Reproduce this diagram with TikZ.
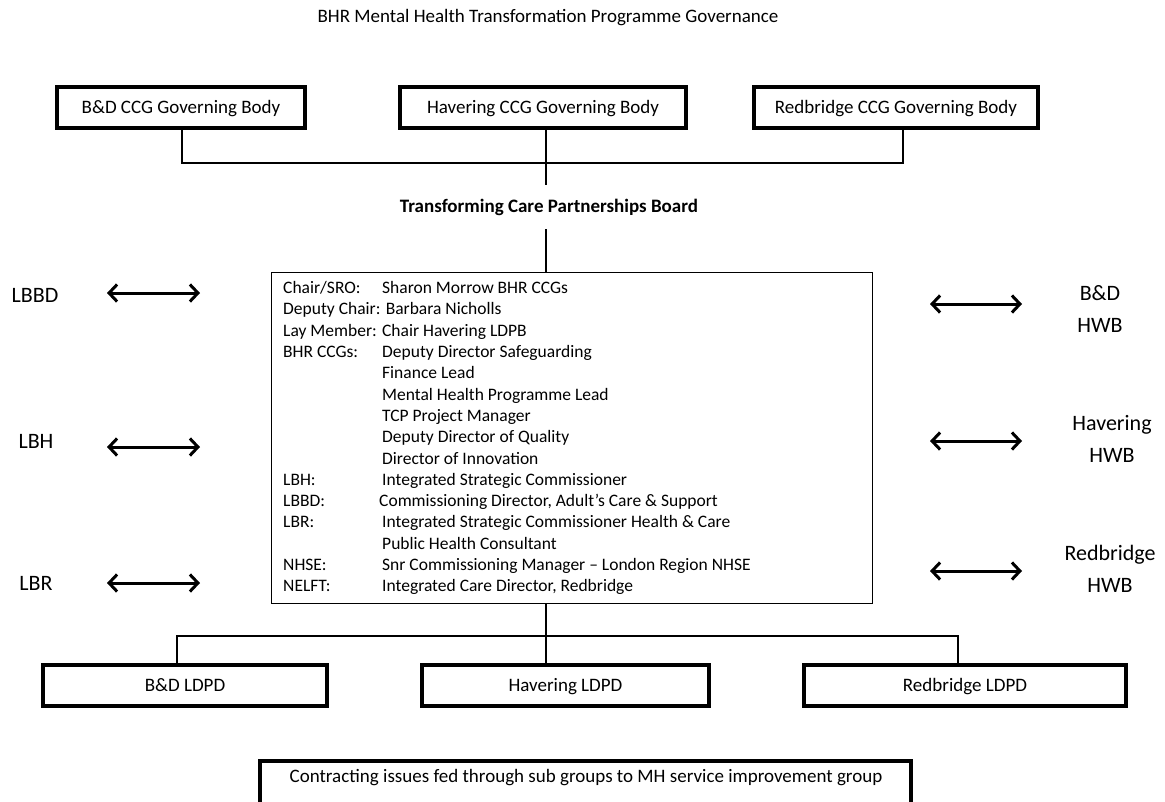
\documentclass[tikz,border=0pt]{standalone}
\usepackage{fontspec}
\setmainfont{Carlito}
\usetikzlibrary{arrows.meta}
\tikzset{
  govbox/.style={draw, line width=3.6pt, inner sep=0pt, text height=14pt, text depth=2pt, font=\fontsize{19}{22}\selectfont},
  conn/.style={line width=1.1pt},
  dbl/.style={line width=3pt, {Straight Barb[length=8pt,width=17pt]}-{Straight Barb[length=8pt,width=17pt]}},
  side/.style={font=\fontsize{22}{32}\selectfont, align=center, inner sep=0pt}
}
\begin{document}
\begin{tikzpicture}[x=1pt,y=-1pt]
\useasboundingbox (0,0) rectangle (1165,801);
% title
\node[font=\fontsize{19}{22}\selectfont] (title) at (548,18) {BHR Mental Health Transformation Programme Governance};
% top governing bodies
\node[govbox, minimum width=248pt, minimum height=41pt] (bdccg) at (181,107.5) {B\&D CCG Governing Body};
\node[govbox, minimum width=286pt, minimum height=41pt] (havccg) at (543,107.5) {Havering CCG Governing Body};
\node[govbox, minimum width=284pt, minimum height=41pt] (rccg) at (896,107.5) {Redbridge CCG Governing Body};
\coordinate (spine) at (546,0);
\coordinate (tbar) at (0,163);
\coordinate (bbar) at (0,636);
\draw[conn] (bdccg.south -| 182,0) |- (tbar -| 903,0) -- (rccg.south -| 903,0);
% TCP board
\node[font=\bfseries\fontsize{19}{22}\selectfont, minimum height=44pt, inner sep=0pt] (tcp) at (549,207) {Transforming Care Partnerships Board};
\draw[conn] (havccg.south -| spine) -- (tcp.north -| spine);
\node[draw, line width=1.2pt, minimum width=601pt, minimum height=331pt, inner sep=0pt] (board) at (572,438) {};
\draw[conn] (tcp.south -| spine) -- (board.north -| spine);
\node[anchor=north west, inner sep=0pt, align=left, font=\fontsize{17.5}{21.3}\selectfont] (members) at (283,278.5) {%
\begin{tabular}{@{}p{99pt}@{}l@{}}
Chair/SRO: & Sharon Morrow BHR CCGs\\
\multicolumn{2}{@{}l@{}}{Deputy Chair: Barbara Nicholls}\\
\multicolumn{2}{@{}l@{}}{Lay Member: Chair Havering LDPB}\\
BHR CCGs: & Deputy Director Safeguarding\\
 & Finance Lead\\
 & Mental Health Programme Lead\\
 & TCP Project Manager\\
 & Deputy Director of Quality\\
 & Director of Innovation\\
LBH: & Integrated Strategic Commissioner\\
LBBD: & \hspace{-3pt}Commissioning Director, Adult’s Care \& Support\\
LBR: & Integrated Strategic Commissioner Health \& Care\\
 & Public Health Consultant\\
NHSE: & Snr Commissioning Manager – London Region NHSE\\
NELFT: & Integrated Care Director, Redbridge
\end{tabular}};
% left labels and arrows
\node[side] (lbbd) at (35,295) {LBBD};
\node[side] (lbh) at (36,441) {LBH};
\node[side] (lbr) at (36,583) {LBR};
\coordinate (l1a) at (107,293); \coordinate (l1b) at (200,293);
\coordinate (l2a) at (107,447); \coordinate (l2b) at (200,447);
\coordinate (l3a) at (107,583); \coordinate (l3b) at (200,583);
\draw[dbl] (l1a) -- (l1b);
\draw[dbl] (l2a) -- (l2b);
\draw[dbl] (l3a) -- (l3b);
% right labels and arrows
\node[side] (bdhwb) at (1100,309) {B\&D\\HWB};
\node[side] (havhwb) at (1112,439) {Havering\\HWB};
\node[side] (rhwb) at (1110,568.5) {Redbridge\\HWB};
\coordinate (r1a) at (930,304); \coordinate (r1b) at (1022,304);
\coordinate (r2a) at (930,441); \coordinate (r2b) at (1022,441);
\coordinate (r3a) at (930,571); \coordinate (r3b) at (1022,571);
\draw[dbl] (r1a) -- (r1b);
\draw[dbl] (r2a) -- (r2b);
\draw[dbl] (r3a) -- (r3b);
% LDPD boxes
\node[govbox, minimum width=284pt, minimum height=41pt] (bdl) at (185,685.5) {B\&D LDPD};
\node[govbox, minimum width=287pt, minimum height=41pt] (havl) at (565.5,685.5) {Havering LDPD};
\node[govbox, minimum width=322pt, minimum height=41pt] (rl) at (965,685.5) {Redbridge LDPD};
\draw[conn] (board.south -| spine) -- (havl.north -| spine);
\draw[conn] (bdl.north -| 177,0) |- (bbar -| 958,0) -- (rl.north -| 958,0);
% contracting box
\node[draw, line width=3.6pt, inner sep=0pt, minimum width=651pt, minimum height=80pt, anchor=north] (contract) at (585.5,759) {};
\node[font=\fontsize{19}{22}\selectfont, inner sep=0pt] (contracttext) at (586,778) {Contracting issues fed through sub groups to MH service improvement group};
\end{tikzpicture}
\end{document}
